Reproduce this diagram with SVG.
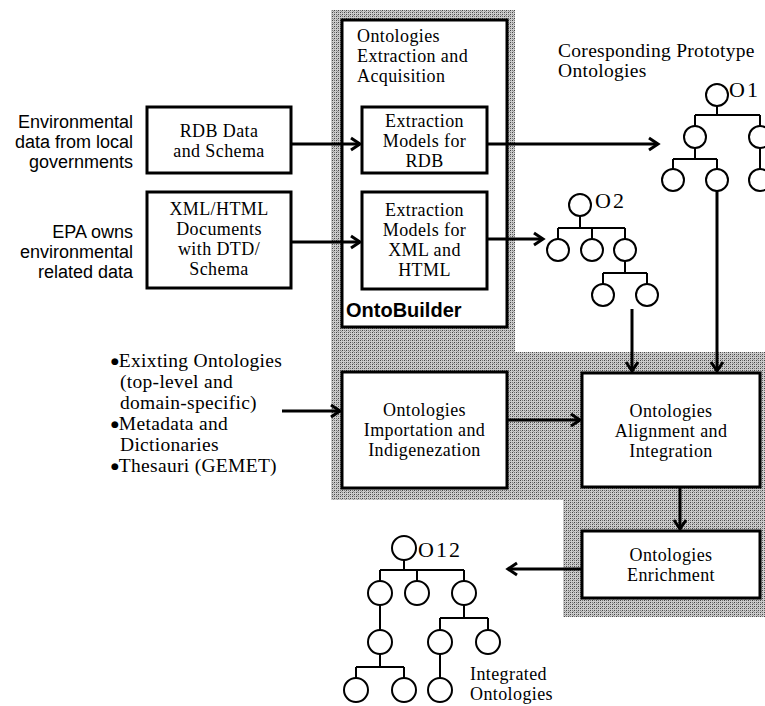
<svg xmlns="http://www.w3.org/2000/svg" width="765" height="706" viewBox="0 0 765 706">
  <defs>
    <pattern id="stipple" width="4" height="4" patternUnits="userSpaceOnUse">
      <rect width="4" height="4" fill="#cbcbcb"/>
      <rect x="0" y="0" width="1" height="1" fill="#444"/>
      <rect x="2" y="2" width="1" height="1" fill="#444"/>
      <rect x="2" y="0" width="1" height="1" fill="#777"/>
      <rect x="0" y="2" width="1" height="1" fill="#777"/>
      <rect x="1" y="3" width="1" height="1" fill="#999"/>
    </pattern>
    <marker id="head" markerUnits="userSpaceOnUse" markerWidth="16" markerHeight="16" refX="12" refY="8" orient="auto">
      <path d="M3,2 L12,8 L3,14" fill="none" stroke="#000" stroke-width="3" stroke-linejoin="miter"/>
    </marker>
  </defs>
  <style>
    .box { fill: #fff; stroke: #000; stroke-width: 3; }
    .serif { font-family: "Liberation Serif", "Times New Roman", serif; font-size: 18px; letter-spacing: 0.4px; fill: #000; }
    .mid { text-anchor: middle; }
    .sans { font-family: "Liberation Sans", Arial, sans-serif; font-size: 18px; fill: #000; text-anchor: end; }
    .bold { font-family: "Liberation Sans", Arial, sans-serif; font-size: 20px; font-weight: bold; fill: #000; }
    .big { font-size: 19.5px; letter-spacing: 0.3px; }
    .dot { font-family: "DejaVu Sans", sans-serif; font-size: 9px; letter-spacing: 0; }
    .conn { fill: none; stroke: #000; stroke-width: 3; }
    .tree line { stroke: #000; stroke-width: 2; }
    .tree circle { fill: #fff; stroke: #000; stroke-width: 2; }
    .olabel { font-family: "Liberation Serif", "Times New Roman", serif; font-size: 22px; letter-spacing: 2px; fill: #000; }
  </style>

  <!-- shaded background behind the processing steps -->
  <polygon id="shade" points="331,10 515,10 515,352 765,352 765,617 563,617 563,500 331,500" fill="url(#stipple)"/>

  <!-- source labels -->
  <g id="label-env">
    <text class="sans" x="133" y="128">Environmental</text>
    <text class="sans" x="133" y="148">data from local</text>
    <text class="sans" x="133" y="168">governments</text>
  </g>
  <g id="label-epa">
    <text class="sans" x="133" y="238">EPA owns</text>
    <text class="sans" x="133" y="258">environmental</text>
    <text class="sans" x="133" y="278">related data</text>
  </g>

  <g id="rdb">
    <rect class="box" x="147" y="107" width="144" height="66"/>
    <text class="serif mid" x="219" y="137">RDB Data</text>
    <text class="serif mid" x="219" y="157">and Schema</text>
  </g>
  <g id="xml">
    <rect class="box" x="147" y="192" width="144" height="96"/>
    <text class="serif mid" x="219" y="215">XML/HTML</text>
    <text class="serif mid" x="219" y="235">Documents</text>
    <text class="serif mid" x="219" y="255">with DTD/</text>
    <text class="serif mid" x="219" y="275">Schema</text>
  </g>

  <!-- OntoBuilder container -->
  <g id="ontobuilder">
    <rect class="box" x="342" y="20" width="165" height="307"/>
    <text class="serif" x="357" y="42">Ontologies</text>
    <text class="serif" x="357" y="62">Extraction and</text>
    <text class="serif" x="357" y="82">Acquisition</text>
    <text class="bold" x="346" y="317">OntoBuilder</text>
  </g>
  <g id="extract-rdb">
    <rect class="box" x="362" y="107" width="125" height="66"/>
    <text class="serif mid" x="424.5" y="127">Extraction</text>
    <text class="serif mid" x="424.5" y="147">Models for</text>
    <text class="serif mid" x="424.5" y="167">RDB</text>
  </g>
  <g id="extract-xml">
    <rect class="box" x="362" y="192" width="125" height="97"/>
    <text class="serif mid" x="424.5" y="216">Extraction</text>
    <text class="serif mid" x="424.5" y="236">Models for</text>
    <text class="serif mid" x="424.5" y="256">XML and</text>
    <text class="serif mid" x="424.5" y="276">HTML</text>
  </g>

  <g id="existing">
    <text class="serif big" x="111" y="367"><tspan class="dot" baseline-shift="3">●</tspan>Exixting Ontologies</text>
    <text class="serif big" x="120" y="388">(top-level and</text>
    <text class="serif big" x="120" y="409">domain-specific)</text>
    <text class="serif big" x="111" y="430"><tspan class="dot" baseline-shift="3">●</tspan>Metadata and</text>
    <text class="serif big" x="120" y="451">Dictionaries</text>
    <text class="serif big" x="111" y="472"><tspan class="dot" baseline-shift="3">●</tspan>Thesauri (GEMET)</text>
  </g>

  <g id="importation">
    <rect class="box" x="342" y="372" width="165" height="116"/>
    <text class="serif mid" x="424.5" y="416">Ontologies</text>
    <text class="serif mid" x="424.5" y="436">Importation and</text>
    <text class="serif mid" x="424.5" y="456">Indigenezation</text>
  </g>
  <g id="alignment">
    <rect class="box" x="582" y="373" width="178" height="114"/>
    <text class="serif mid" x="671" y="417">Ontologies</text>
    <text class="serif mid" x="671" y="437">Alignment and</text>
    <text class="serif mid" x="671" y="457">Integration</text>
  </g>
  <g id="enrichment">
    <rect class="box" x="582" y="531" width="178" height="67"/>
    <text class="serif mid" x="671" y="561">Ontologies</text>
    <text class="serif mid" x="671" y="581">Enrichment</text>
  </g>

  <g id="prototype-label">
    <text class="serif big" x="558" y="57">Coresponding Prototype</text>
    <text class="serif big" x="558" y="77">Ontologies</text>
  </g>

  <!-- prototype ontology O1 -->
  <g id="o1" class="tree">
    <line x1="717" y1="106" x2="717" y2="115"/>
    <line x1="695" y1="115" x2="760" y2="115"/>
    <line x1="695" y1="115" x2="695" y2="126"/>
    <line x1="760" y1="115" x2="760" y2="126"/>
    <line x1="695" y1="148" x2="695" y2="159"/>
    <line x1="673" y1="159" x2="717" y2="159"/>
    <line x1="673" y1="159" x2="673" y2="169"/>
    <line x1="717" y1="159" x2="717" y2="169"/>
    <line x1="760" y1="148" x2="760" y2="169"/>
    <circle cx="717" cy="95" r="11"/>
    <circle cx="695" cy="137" r="11"/>
    <circle cx="760" cy="137" r="11"/>
    <circle cx="673" cy="180" r="11"/>
    <circle cx="717" cy="180" r="11"/>
    <circle cx="760" cy="180" r="11"/>
    <text class="olabel" x="729" y="97">O1</text>
  </g>

  <!-- prototype ontology O2 -->
  <g id="o2" class="tree">
    <line x1="580" y1="216" x2="580" y2="228"/>
    <line x1="558" y1="228" x2="625" y2="228"/>
    <line x1="558" y1="228" x2="558" y2="239"/>
    <line x1="592" y1="228" x2="592" y2="239"/>
    <line x1="625" y1="228" x2="625" y2="239"/>
    <line x1="625" y1="261" x2="625" y2="273"/>
    <line x1="603" y1="273" x2="647" y2="273"/>
    <line x1="603" y1="273" x2="603" y2="284"/>
    <line x1="647" y1="273" x2="647" y2="284"/>
    <circle cx="580" cy="205" r="11"/>
    <circle cx="558" cy="250" r="11"/>
    <circle cx="592" cy="250" r="11"/>
    <circle cx="625" cy="250" r="11"/>
    <circle cx="603" cy="295" r="11"/>
    <circle cx="647" cy="295" r="11"/>
    <text class="olabel" x="595" y="208">O2</text>
  </g>

  <!-- integrated ontology O12 -->
  <g id="o12" class="tree">
    <line x1="404" y1="560" x2="404" y2="570"/>
    <line x1="380" y1="570" x2="464" y2="570"/>
    <line x1="380" y1="570" x2="380" y2="581"/>
    <line x1="417" y1="570" x2="417" y2="581"/>
    <line x1="464" y1="570" x2="464" y2="581"/>
    <line x1="380" y1="605" x2="380" y2="630"/>
    <line x1="380" y1="654" x2="380" y2="667"/>
    <line x1="356" y1="667" x2="404" y2="667"/>
    <line x1="356" y1="667" x2="356" y2="678"/>
    <line x1="404" y1="667" x2="404" y2="678"/>
    <line x1="464" y1="605" x2="464" y2="618"/>
    <line x1="440" y1="618" x2="488" y2="618"/>
    <line x1="440" y1="618" x2="440" y2="630"/>
    <line x1="488" y1="618" x2="488" y2="630"/>
    <line x1="440" y1="654" x2="440" y2="678"/>
    <circle cx="404" cy="548" r="12"/>
    <circle cx="380" cy="593" r="12"/>
    <circle cx="417" cy="593" r="12"/>
    <circle cx="464" cy="593" r="12"/>
    <circle cx="380" cy="642" r="12"/>
    <circle cx="440" cy="642" r="12"/>
    <circle cx="488" cy="642" r="12"/>
    <circle cx="356" cy="690" r="12"/>
    <circle cx="404" cy="690" r="12"/>
    <circle cx="440" cy="690" r="12"/>
    <text class="olabel" x="418" y="557">O12</text>
    <text class="serif" x="470" y="680">Integrated</text>
    <text class="serif" x="470" y="700">Ontologies</text>
  </g>

  <!-- connectors -->
  <g id="connectors">
    <line class="conn" x1="291" y1="144" x2="360" y2="144" marker-end="url(#head)"/>
    <line class="conn" x1="291" y1="242" x2="360" y2="242" marker-end="url(#head)"/>
    <line class="conn" x1="487" y1="144" x2="658" y2="144" marker-end="url(#head)"/>
    <line class="conn" x1="487" y1="239" x2="543" y2="239" marker-end="url(#head)"/>
    <line class="conn" x1="282" y1="411" x2="340" y2="411" marker-end="url(#head)"/>
    <line class="conn" x1="507" y1="420" x2="580" y2="420" marker-end="url(#head)"/>
    <line class="conn" x1="632" y1="309" x2="632" y2="371" marker-end="url(#head)"/>
    <line class="conn" x1="717" y1="191" x2="717" y2="371" marker-end="url(#head)"/>
    <line class="conn" x1="680" y1="487" x2="680" y2="529" marker-end="url(#head)"/>
    <line class="conn" x1="582" y1="569" x2="508" y2="569" marker-end="url(#head)"/>
  </g>
</svg>
